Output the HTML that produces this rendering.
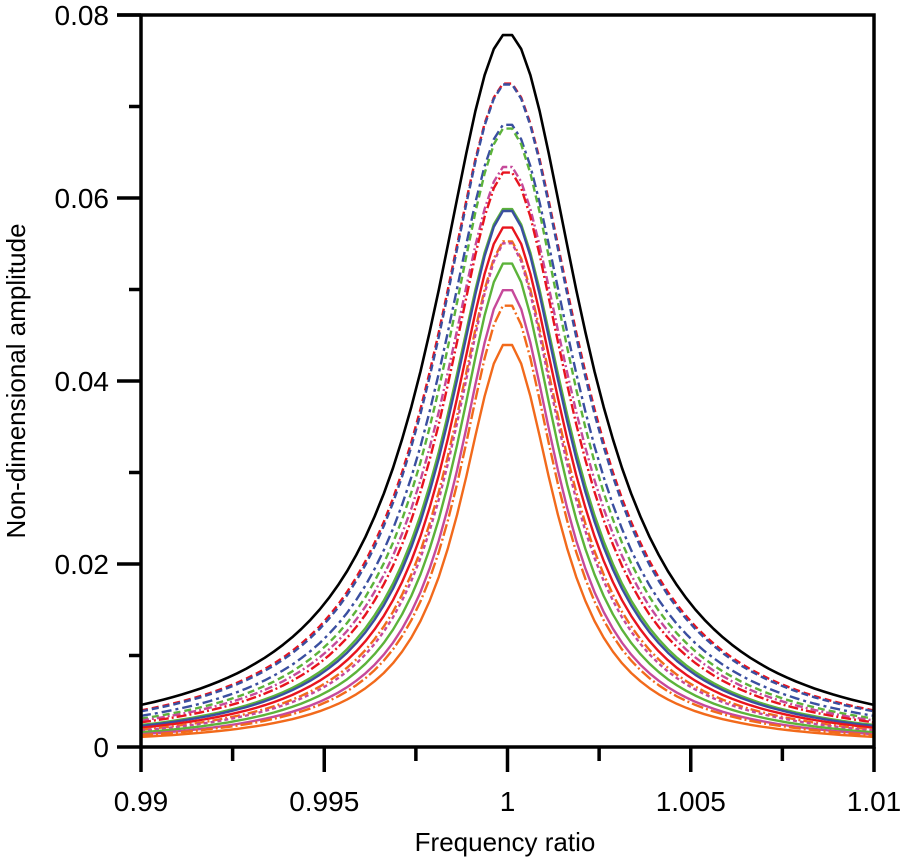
<!DOCTYPE html>
<html><head><meta charset="utf-8"><style>
body{margin:0;background:#fff;}
svg text{font-family:"Liberation Sans",sans-serif;fill:#000;}
</style></head><body>
<svg id="chart" width="902" height="858" viewBox="0 0 902 858" xmlns="http://www.w3.org/2000/svg">
<g id="curves"></g>
<g id="axes"></g>
</svg>
<script>
const xTicks = [0.99, 0.995, 1, 1.005, 1.01];
const xTickLabels = ["0.99", "0.995", "1", "1.005", "1.01"];
const yTicks = [0, 0.02, 0.04, 0.06, 0.08];
const yTickLabels = ["0", "0.02", "0.04", "0.06", "0.08"];
const seriesNames = ["black-solid","red-dashed","blue-dashed","blue-dashdot","green-dashed","magenta-dashdot","red-dashdot","green-solid","blue-solid","red-solid","orange-dashdot","magenta-dashed","green-solid-2","magenta-solid","orange-dashdot-2","orange-solid"];
const seriesPeaks = [0.0780,0.0727,0.0726,0.0682,0.0678,0.0636,0.0630,0.0590,0.0588,0.0570,0.0555,0.0553,0.0531,0.0502,0.0485,0.0442];
const seriesEdge = [0.0046,0.0040,0.0039,0.0034,0.0031,0.0029,0.0027,0.0024,0.0023,0.0021,0.0019,0.0018,0.0016,0.0014,0.0013,0.0011];
const seriesColors = ["#000","#e8141e","#3a4fa0","#3a4fa0","#5cb33a","#c6499a","#e8141e","#5cb33a","#3a4fa0","#e8141e","#f26a1b","#c6499a","#5cb33a","#c6499a","#f26a1b","#f26a1b"];
const seriesDash = ["","7,4","7,4","10,4,3,4","7,4","8,3,2,3","10,3,2,3","","","","10,3,2,3","4,3","","","12,3,2,3",""];

const X0=141,X1=874,Y0=747,Y1=15;
const xs=v=>X0+(v-0.99)/0.02*(X1-X0);
const ys=v=>Y0-(v/0.08)*(Y0-Y1);
const NS="http://www.w3.org/2000/svg";
function mk(t,a,p){const e=document.createElementNS(NS,t);for(const k in a)e.setAttribute(k,a[k]);p.appendChild(e);return e;}
const cg=document.getElementById('curves'), ag=document.getElementById('axes');
seriesPeaks.forEach((P,i)=>{
  const g=0.01/Math.sqrt(P/seriesEdge[i]-1);
  const pts=[0.99];
  for(let x=0.990125;x<1.01;x+=0.00025)pts.push(x);
  pts.push(1.01);
  let d="";
  pts.forEach(x=>{
    const v=P/(1+Math.pow((x-1)/g,2));
    d+=(d?"L":"M")+xs(x).toFixed(1)+","+ys(v).toFixed(1);
  });
  const p=mk('path',{d:d,fill:'none',stroke:seriesColors[i],'stroke-width':i==0?2.6:2.4,'stroke-linejoin':'round'},cg);
  if(seriesDash[i])p.setAttribute('stroke-dasharray',seriesDash[i]);
  
  
});
const fr=mk('path',{d:`M${X0},${Y1}V${Y0}H${X1}V${Y1}H${X0-24}`,fill:'none',stroke:'#000','stroke-width':3.5},ag);


for(let k=0;k<=8;k++){
  const v=0.99+k*0.0025, major=k%2==0;
  const t=mk('line',{x1:xs(v),x2:xs(v),y1:Y0,y2:Y0+(major?25:14),stroke:'#000','stroke-width':3.5},ag);
  
  
}
xTicks.forEach((v,i)=>{
  const t=mk('text',{x:xs(v),y:811,'font-size':28,'text-anchor':'middle'},ag);t.textContent=xTickLabels[i];
  
  
});
for(let k=0;k<=8;k++){
  const v=k*0.01, major=k%2==0;
  const t=mk('line',{x1:X0-(major?24:12),x2:X0,y1:ys(v),y2:ys(v),stroke:'#000','stroke-width':3.5},ag);
  
  
}
yTicks.forEach((v,i)=>{
  const t=mk('text',{x:109,y:ys(v)+10,'font-size':28,'text-anchor':'end'},ag);t.textContent=yTickLabels[i];
  
  
});
const xt=mk('text',{x:505,y:851,'font-size':26,'text-anchor':'middle'},ag);xt.textContent="Frequency ratio";


const yt=mk('text',{x:0,y:0,'font-size':26,'text-anchor':'middle',transform:'translate(25,381) rotate(-90)'},ag);yt.textContent="Non-dimensional amplitude";


</script>
</body></html>
